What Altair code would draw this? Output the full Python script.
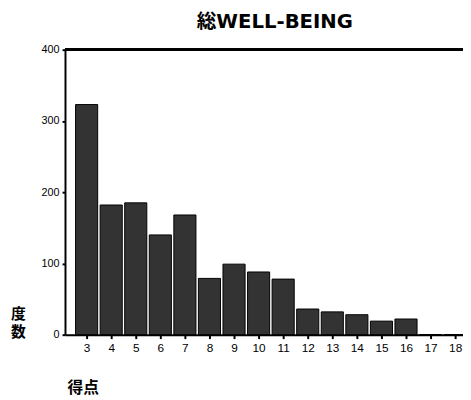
import altair as alt
import pandas as pd

scores = [3, 4, 5, 6, 7, 8, 9, 10, 11, 12, 13, 14, 15, 16, 17, 18]
counts = [323, 182, 185, 140, 168, 79, 99, 88, 78, 36, 32, 28, 19, 22, 0, 0]
y_ticks = [0, 100, 200, 300, 400]

df = pd.DataFrame({"score": scores, "count": counts})
df["x0"] = df["score"] - 0.45
df["x1"] = df["score"] + 0.45

FONT = "DejaVu Sans, Noto Sans CJK JP"

xscale = alt.Scale(domain=[2.12, 18.32], nice=False, zero=False)
yscale = alt.Scale(domain=[0, 400], nice=False)

bars = alt.Chart(df).mark_rect(fill="#333333", stroke="black", strokeWidth=1).encode(
    x=alt.X("x0:Q", scale=xscale,
            axis=alt.Axis(values=scores, format="d", title="得点", grid=False,
                          domainColor="black", domainWidth=2, tickColor="black",
                          tickSize=4, tickWidth=2, labelFontSize=12, labelColor="black",
                          labelPadding=4, labelFont="Liberation Sans",
                          titleFont=FONT, titleFontSize=16, titleFontWeight="bold",
                          titleColor="black", titleAnchor="start", titleAlign="left",
                          titleX=2, titleY=62, titleBaseline="bottom")),
    x2="x1:Q",
    y=alt.Y("count:Q", scale=yscale,
            axis=alt.Axis(values=y_ticks, title=["度", "数"], grid=False,
                          domainColor="black", domainWidth=2, tickColor="black",
                          tickSize=3, tickWidth=2, labelFontSize=11, labelColor="black",
                          labelPadding=3, labelFont="Liberation Sans",
                          titleFont=FONT, titleFontSize=15, titleFontWeight="bold",
                          titleColor="black", titleAngle=0, titleAlign="center",
                          titleBaseline="top", titleX=-48, titleY=262,
                          titleLineHeight=18)),
    y2=alt.datum(0),
)

top_line = alt.Chart(df).mark_rule(color="black", strokeWidth=2).encode(
    y=alt.datum(400, scale=yscale)
)

chart = alt.layer(bars, top_line).properties(
    width=405,
    height=290,
    autosize=alt.AutoSizeParams(type="none"),
    padding={"left": 58, "top": 39, "right": 0, "bottom": 60},
    title=alt.TitleParams("総WELL-BEING", font=FONT, fontSize=20, fontWeight="bold",
                          color="black", anchor="middle", dx=11, offset=-8,
                          baseline="bottom"),
).configure_view(stroke=None).configure(background="white")

chart.save("out.html", embed_options={"renderer": "svg", "actions": False})
